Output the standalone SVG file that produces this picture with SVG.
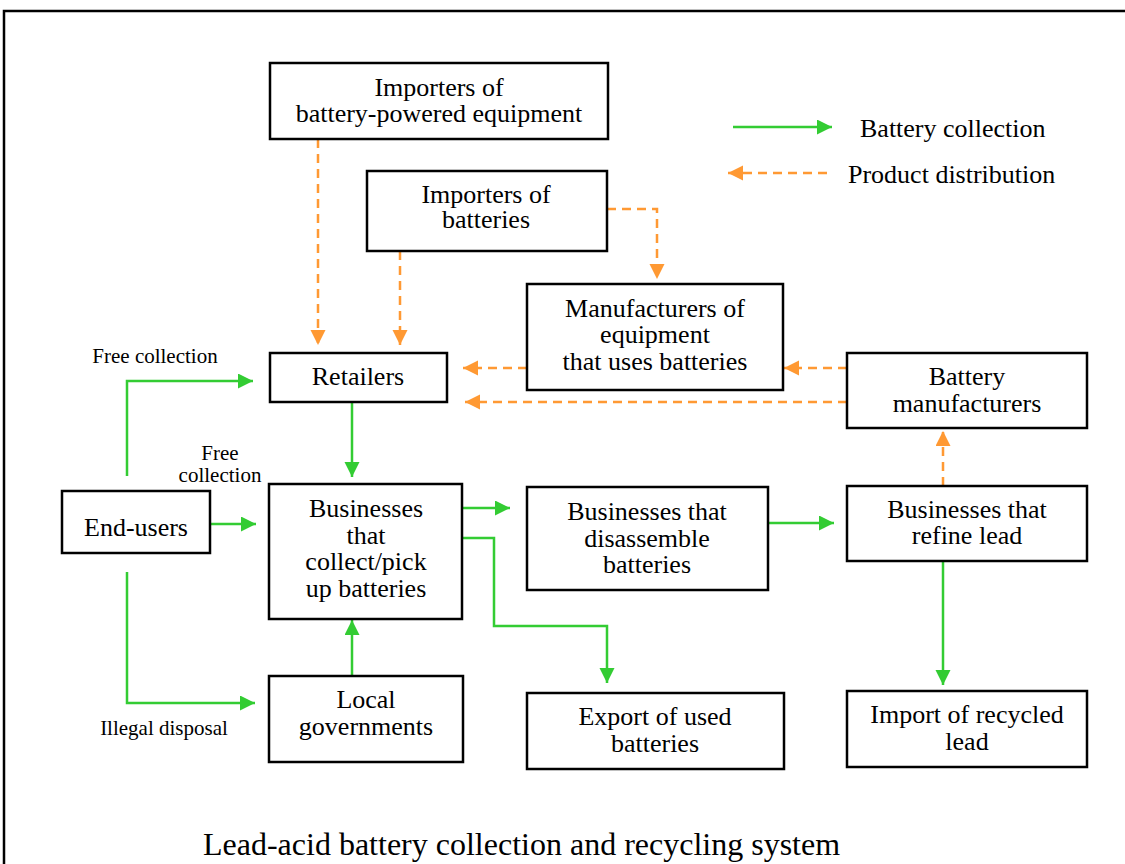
<svg xmlns="http://www.w3.org/2000/svg" width="1125" height="864" viewBox="0 0 1125 864">
<style>
.box{fill:#fff;stroke:#000;stroke-width:2.5}
.t{font-family:"Liberation Serif","Times New Roman",serif;font-size:26px;fill:#000;text-anchor:middle}
.s{font-family:"Liberation Serif","Times New Roman",serif;font-size:21px;fill:#000;text-anchor:middle}
.g{fill:none;stroke:#33cc33;stroke-width:2.5;marker-end:url(#ag)}
.o{fill:none;stroke:#ff9933;stroke-width:2.5;stroke-dasharray:9 6;marker-end:url(#ao)}
</style>
<defs>
<marker id="ag" markerUnits="userSpaceOnUse" markerWidth="16" markerHeight="16" refX="15" refY="7.5" orient="auto"><path d="M0,0 L15,7.5 L0,15 z" fill="#33cc33"/></marker>
<marker id="ao" markerUnits="userSpaceOnUse" markerWidth="16" markerHeight="16" refX="15" refY="7.5" orient="auto"><path d="M0,0 L15,7.5 L0,15 z" fill="#ff9933"/></marker>
</defs>
<rect width="1125" height="864" fill="#fff"/>
<path d="M4,880 V11 H1130" fill="none" stroke="#000" stroke-width="2.5"/>

<g id="connectors">
<path class="g" d="M127,476 V381 H253"/>
<path class="g" d="M352,402 V477"/>
<path class="g" d="M210,524 H256"/>
<path class="g" d="M462,508 H510"/>
<path class="g" d="M462,538 H494 V626 H607 V683"/>
<path class="g" d="M768,523 H834"/>
<path class="g" d="M943,561 V685"/>
<path class="g" d="M127,572 V703 H255"/>
<path class="g" d="M352,676 V620"/>
<path class="o" d="M318,139 V345"/>
<path class="o" d="M400,251 V345"/>
<path class="o" d="M607,209 H657 V279"/>
<path class="o" d="M527,368 H463"/>
<path class="o" d="M847,368 H784"/>
<path class="o" d="M847,402 H465"/>
<path class="o" d="M943,486 V431"/>
</g>

<g id="legend">
<path class="g" d="M733,127 H832"/>
<text x="860" y="137" class="t" style="text-anchor:start">Battery collection</text>
<path class="o" d="M827,173 H728"/>
<text x="848" y="183" class="t" style="text-anchor:start">Product distribution</text>
</g>

<g id="labels">
<text x="155" y="363" class="s">Free collection</text>
<text x="220" y="460" class="s">Free</text>
<text x="220" y="482" class="s">collection</text>
<text x="164" y="735" class="s">Illegal disposal</text>
</g>

<g id="importers-equipment">
<rect class="box" x="270" y="63" width="338" height="76"/>
<text class="t" x="439" y="96">Importers of</text>
<text class="t" x="439" y="122">battery-powered equipment</text>
</g>
<g id="importers-batteries">
<rect class="box" x="367" y="171" width="240" height="80"/>
<text class="t" x="486" y="203">Importers of</text>
<text class="t" x="486" y="228">batteries</text>
</g>
<g id="manufacturers-equipment">
<rect class="box" x="527" y="284" width="256" height="106"/>
<text class="t" x="655" y="317">Manufacturers of</text>
<text class="t" x="655" y="343">equipment</text>
<text class="t" x="655" y="370">that uses batteries</text>
</g>
<g id="retailers">
<rect class="box" x="270" y="353" width="177" height="49"/>
<text class="t" x="358" y="385">Retailers</text>
</g>
<g id="battery-manufacturers">
<rect class="box" x="847" y="353" width="240" height="75"/>
<text class="t" x="967" y="385">Battery</text>
<text class="t" x="967" y="412">manufacturers</text>
</g>
<g id="end-users">
<rect class="box" x="62" y="491" width="148" height="62"/>
<text class="t" x="136" y="536">End-users</text>
</g>
<g id="collectors">
<rect class="box" x="269" y="484" width="193" height="135"/>
<text class="t" x="366" y="517">Businesses</text>
<text class="t" x="366" y="543.5">that</text>
<text class="t" x="366" y="570">collect/pick</text>
<text class="t" x="366" y="596.5">up batteries</text>
</g>
<g id="disassemblers">
<rect class="box" x="527" y="487" width="241" height="103"/>
<text class="t" x="647" y="520">Businesses that</text>
<text class="t" x="647" y="546.5">disassemble</text>
<text class="t" x="647" y="573">batteries</text>
</g>
<g id="refiners">
<rect class="box" x="847" y="486" width="240" height="75"/>
<text class="t" x="967" y="518">Businesses that</text>
<text class="t" x="967" y="544">refine lead</text>
</g>
<g id="local-governments">
<rect class="box" x="269" y="676" width="194" height="86"/>
<text class="t" x="366" y="708">Local</text>
<text class="t" x="366" y="735">governments</text>
</g>
<g id="export">
<rect class="box" x="527" y="693" width="257" height="76"/>
<text class="t" x="655" y="725">Export of used</text>
<text class="t" x="655" y="752">batteries</text>
</g>
<g id="import">
<rect class="box" x="847" y="691" width="240" height="76"/>
<text class="t" x="967" y="723">Import of recycled</text>
<text class="t" x="967" y="750">lead</text>
</g>

<text x="203" y="855" style="font-family:'Liberation Serif','Times New Roman',serif;font-size:32px;fill:#000">Lead-acid battery collection and recycling system</text>
</svg>
